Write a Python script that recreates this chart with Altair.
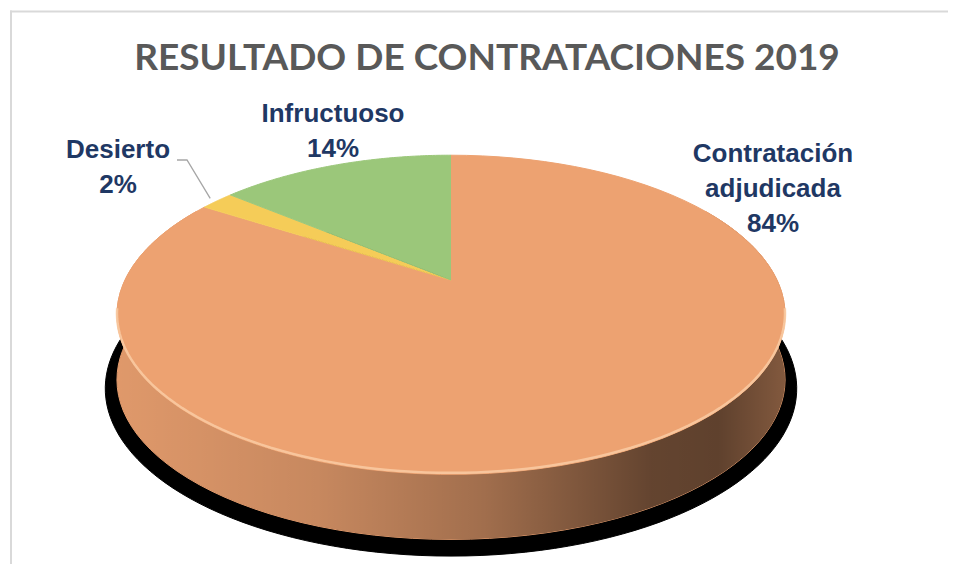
import altair as alt
import pandas as pd

# ---- data ----
categories = ["Contratación adjudicada", "Desierto", "Infructuoso"]
values = [84, 2, 14]
colors = ["#eda271", "#f5cc58", "#9bc77a"]
TITLE = "RESULTADO DE CONTRATACIONES 2019"

# ---- layout (label anchor = first-line baseline, view px) ----
label_x = [765, 110, 325]
label_y = [154, 150, 114]

W, H = 940, 556
CX, CY = 443, 272          # projected pie centre
RX, RY, K = 326, 152, 0.218  # radii and perspective factor
THICK = 65
N = 90

df = pd.DataFrame({"category": categories, "value": values,
                   "order": list(range(len(categories))),
                   "lx": label_x, "ly": label_y})
one = pd.DataFrame({"k": [0]})

xs = alt.Scale(domain=[0, W], nice=False, zero=False)
ys = alt.Scale(domain=[H, 0], nice=False, zero=False)
cs = alt.Scale(domain=categories, range=colors)


def X(f):
    return alt.X(f"{f}:Q", scale=xs, axis=None)


def Y(f):
    return alt.Y(f"{f}:Q", scale=ys, axis=None)


def px(phi, sc=1.0):
    return f"{CX} + {RX*sc}*sin({phi})/(1 + {K}*cos({phi}))"


def py(phi, sc=1.0):
    return f"{CY} - {RY*sc}*cos({phi})/(1 + {K}*cos({phi}))"


base = (alt.Chart(df)
        .transform_joinaggregate(total="sum(value)")
        .transform_window(cum="sum(value)", sort=[alt.SortField("order")], frame=[None, 0])
        .transform_calculate(s="2*PI*(datum.cum - datum.value)/datum.total",
                             e="2*PI*datum.cum/datum.total",
                             pct="format(datum.value/datum.total, '.0%')"))

# shadow under the pie
shadow = (alt.Chart(one)
          .transform_calculate(seq=f"sequence(0, {2*N+1})")
          .transform_flatten(["seq"], as_=["t"])
          .transform_calculate(phi=f"2*PI*datum.t/{2*N}")
          .transform_calculate(px=px("datum.phi", 1.035),
                               py=py("datum.phi", 1.05) + f" + {THICK + 7}")
          .mark_line(fill="#000000", stroke="#000000", strokeWidth=1)
          .encode(x=X("px"), y=Y("py"), order="t:Q"))

# side wall pieces (front part of each slice)
side_calc = dict(
    phi=f"datum.t <= {N} ? datum.a + (datum.b - datum.a)*datum.t/{N} : datum.b - (datum.b - datum.a)*(datum.t - {N+1})/{N}",
    dy=f"datum.t <= {N} ? 0 : {THICK}")
side = (base
        .transform_calculate(a="max(datum.s, PI/3)", b="min(datum.e, 5*PI/3)")
        .transform_filter("datum.b > datum.a")
        .transform_calculate(seq=f"sequence(0, {2*N+2})")
        .transform_flatten(["seq"], as_=["t"])
        .transform_calculate(**side_calc)
        .transform_calculate(px=px("datum.phi"), py=py("datum.phi") + " + datum.dy")
        .mark_line(strokeWidth=1)
        .encode(x=X("px"), y=Y("py"),
                fill=alt.Fill("category:N", scale=cs, legend=None),
                stroke=alt.Stroke("category:N", scale=cs, legend=None),
                detail="category:N", order="t:Q"))

shade_grad = alt.Gradient(
    gradient="linear", x1=0, x2=1, y1=0, y2=0,
    stops=[alt.GradientStop(color="rgba(0,0,0,0.06)", offset=0),
           alt.GradientStop(color="rgba(0,0,0,0.16)", offset=0.3),
           alt.GradientStop(color="rgba(0,0,0,0.32)", offset=0.55),
           alt.GradientStop(color="rgba(0,0,0,0.58)", offset=0.8),
           alt.GradientStop(color="rgba(0,0,0,0.6)", offset=0.9),
           alt.GradientStop(color="rgba(0,0,0,0.45)", offset=1)])
shade = (alt.Chart(one)
         .transform_calculate(a="PI/3", b="5*PI/3")
         .transform_calculate(seq=f"sequence(0, {2*N+2})")
         .transform_flatten(["seq"], as_=["t"])
         .transform_calculate(**side_calc)
         .transform_calculate(px=px("datum.phi"), py=py("datum.phi") + " + datum.dy")
         .mark_line(fill=shade_grad, strokeWidth=0)
         .encode(x=X("px"), y=Y("py"), order="t:Q"))

# top face slices
slices = (base
          .transform_calculate(seq=f"sequence(-1, {N+1})")
          .transform_flatten(["seq"], as_=["t"])
          .transform_calculate(phi=f"datum.s + (datum.e - datum.s)*max(datum.t, 0)/{N}")
          .transform_calculate(px=f"datum.t < 0 ? {CX} : " + px("datum.phi"),
                               py=f"datum.t < 0 ? {CY} : " + py("datum.phi"))
          .mark_line(strokeWidth=1, strokeJoin="round")
          .encode(x=X("px"), y=Y("py"),
                  fill=alt.Fill("category:N", scale=cs, legend=None),
                  stroke=alt.Stroke("category:N", scale=cs, legend=None),
                  detail="category:N", order="t:Q"))

# rim highlight along the front edge
rim = (alt.Chart(one)
       .transform_calculate(seq=f"sequence(0, {N+1})")
       .transform_flatten(["seq"], as_=["t"])
       .transform_calculate(phi=f"PI*0.56 + PI*0.88*datum.t/{N}")
       .transform_calculate(px=px("datum.phi"), py=py("datum.phi") + " - 1.5")
       .mark_line(stroke="#f9cba3", strokeWidth=2.5, opacity=0.85)
       .encode(x=X("px"), y=Y("py"), order="t:Q"))

# leader line for small slices
leader = (base
          .transform_filter("datum.value/datum.total < 0.05")
          .transform_calculate(seq="sequence(0, 3)")
          .transform_flatten(["seq"], as_=["t"])
          .transform_calculate(mid="(datum.s + datum.e)/2")
          .transform_calculate(
              px="datum.t == 0 ? datum.lx + 59 : datum.t == 1 ? datum.lx + 69 : " + px("datum.mid", 1.03),
              py="datum.t < 2 ? datum.ly + 2 : " + py("datum.mid", 1.03))
          .mark_line(stroke="#a6a6a6", strokeWidth=1.3)
          .encode(x=X("px"), y=Y("py"), order="t:Q"))

labels = (base
          .transform_calculate(label="replace(datum.category, ' ', '\\n') + '\\n' + datum.pct")
          .mark_text(font="Liberation Sans", fontSize=26, fontWeight="bold",
                     color="#1f3864", lineBreak="\n", lineHeight=35,
                     baseline="alphabetic", align="center")
          .encode(x=X("lx"), y=Y("ly"), text="label:N"))

title = (alt.Chart(one)
         .mark_text(text=TITLE, font="Lato", fontSize=37, fontWeight="bold",
                    color="#595959", align="center", baseline="alphabetic")
         .encode(x=alt.value(479), y=alt.value(62)))

# chart frame: only the left and top edges fall inside the window
frame_left = (alt.Chart(one)
              .mark_rule(stroke="#d9d9d9", strokeWidth=2)
              .encode(x=alt.value(3), y=alt.value(2.5), y2=alt.value(H)))
frame_top = (alt.Chart(one)
             .mark_rule(stroke="#d9d9d9", strokeWidth=2)
             .encode(x=alt.value(2), x2=alt.value(W), y=alt.value(3.5)))

chart = (alt.layer(frame_left, frame_top, shadow, side, shade, slices, rim, leader, labels, title)
         .properties(width=W, height=H, padding=0, background="white",
                     autosize=alt.AutoSizeParams(type="none"))
         .configure_view(stroke="transparent", strokeWidth=0))

chart.save("out.html", embed_options={"renderer": "svg", "actions": False})
